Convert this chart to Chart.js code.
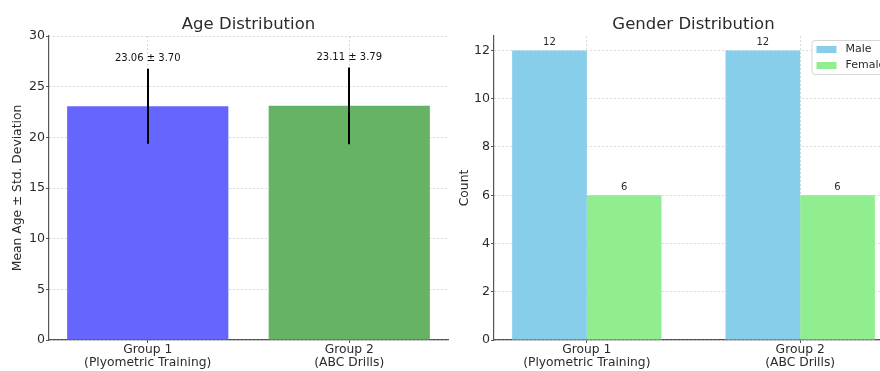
<!DOCTYPE html>
<html>
<head>
<meta charset="utf-8">
<script src="https://cdn.jsdelivr.net/npm/chart.js@4.4.1/dist/chart.umd.min.js"></script>
<style>
  html, body { margin: 0; padding: 0; background: #fff; }
  body { width: 880px; height: 371px; overflow: hidden; position: relative; }
  canvas { position: absolute; top: 0; }
  #ageChart { left: 0; }
  #genderChart { left: 450px; }
</style>
</head>
<body>
<canvas id="ageChart" width="450" height="371"></canvas>
<canvas id="genderChart" width="460" height="371"></canvas>
<script>
const groupLabels = [['Group 1', '(Plyometric Training)'], ['Group 2', '(ABC Drills)']];
const groupPos = [0, 1];
const meanAge = [23.06, 23.11];
const sdAge = [3.70, 3.79];
const maleCounts = [12, 12];
const femaleCounts = [6, 6];

Chart.defaults.font.family = "'DejaVu Sans', sans-serif";
Chart.defaults.color = '#333';
Chart.defaults.animation = false;
Chart.defaults.plugins.legend.display = false;
Chart.defaults.plugins.tooltip.enabled = false;

var textColor = '#2b2b2b';
var spine = '#555';
var gridColor = 'rgba(170,170,170,0.45)';

// title centred over the plot area
const titlePlugin = {
    id: 'axTitle',
    afterDraw: function (chart, args, opts) {
        var ctx = chart.ctx, a = chart.chartArea;
        ctx.save();
        ctx.font = '16.5px "DejaVu Sans"';
        ctx.fillStyle = textColor;
        ctx.textAlign = 'center';
        ctx.textBaseline = 'alphabetic';
        ctx.fillText(opts.text, (a.left + a.right) / 2, 29);
        ctx.restore();
    }
};

// black error bars + "mean ± sd" text for the age chart
const errorBarPlugin = {
    id: 'errBars',
    afterDraw: function (chart) {
        var ctx = chart.ctx, y = chart.scales.y;
        var meta = chart.getDatasetMeta(0);
        ctx.save();
        meta.data.forEach(function (bar, i) {
            var top = y.getPixelForValue(meanAge[i] + sdAge[i]);
            var bot = y.getPixelForValue(meanAge[i] - sdAge[i]);
            ctx.strokeStyle = '#000';
            ctx.lineWidth = 2;
            ctx.beginPath();
            ctx.moveTo(Math.round(bar.x), top);
            ctx.lineTo(Math.round(bar.x), bot);
            ctx.stroke();
            ctx.font = '10px "DejaVu Sans"';
            ctx.fillStyle = '#111';
            ctx.textAlign = 'center';
            ctx.textBaseline = 'bottom';
            ctx.fillText(meanAge[i].toFixed(2) + ' \u00b1 ' + sdAge[i].toFixed(2), bar.x,
                y.getPixelForValue(meanAge[i] + sdAge[i] + 0.5));
        });
        ctx.restore();
    }
};

// count labels on top of the gender bars, and the legend box
const countPlugin = {
    id: 'counts',
    afterDraw: function (chart) {
        var ctx = chart.ctx, a = chart.chartArea;
        ctx.save();
        ctx.font = '10px "DejaVu Sans"';
        ctx.fillStyle = textColor;
        ctx.textAlign = 'center';
        ctx.textBaseline = 'bottom';
        chart.data.datasets.forEach(function (ds, d) {
            chart.getDatasetMeta(d).data.forEach(function (bar, i) {
                ctx.fillText(String(ds.data[i].y), bar.x, bar.y - 3);
            });
        });

        // legend, upper right
        var w = 76, h = 34;
        var lx = a.right - 5.5 - w, ly = a.top + 4;
        ctx.beginPath();
        ctx.roundRect(lx + 0.5, ly + 0.5, w, h, 3);
        ctx.fillStyle = 'rgba(255,255,255,0.85)';
        ctx.fill();
        ctx.strokeStyle = '#d6d6d6';
        ctx.lineWidth = 1;
        ctx.stroke();
        ctx.font = '11px "DejaVu Sans"';
        ctx.textAlign = 'left';
        ctx.textBaseline = 'middle';
        chart.data.datasets.forEach(function (ds, d) {
            var cy = ly + 9.5 + d * 16;
            ctx.fillStyle = ds.backgroundColor;
            ctx.fillRect(lx + 5, cy - 3.5, 20, 7);
            ctx.fillStyle = textColor;
            ctx.fillText(ds.label, lx + 34, cy);
        });
        ctx.restore();
    }
};

function xAxis(min, max) {
    return {
        type: 'linear',
        min: min,
        max: max,
        offset: false,
        z: 1,
        afterBuildTicks: function (s) {
            s.ticks = groupPos.map(function (v) { return { value: v }; });
        },
        afterFit: function (s) { s.height = 31; },
        ticks: {
            callback: function (v) { return groupLabels[groupPos.indexOf(v)]; },
            font: { size: 12.3, lineHeight: 1.1 },
            color: textColor,
            padding: 0,
            maxRotation: 0,
            autoSkip: false
        },
        grid: { offset: false, color: gridColor, tickColor: spine, tickLength: 3 },
        border: { color: spine, width: 1.2, dash: [2, 2] }
    };
}

function yAxis(max, step, title, width, titlePad) {
    return {
        min: 0,
        max: max,
        z: 1,
        afterFit: function (s) { s.width = width; },
        ticks: {
            stepSize: step,
            includeBounds: false,
            font: { size: 12.6 },
            color: textColor,
            padding: 1
        },
        grid: { color: gridColor, tickColor: spine, tickLength: 3 },
        border: { color: spine, width: 1.2, dash: [2, 2] },
        title: {
            display: true,
            text: title,
            color: textColor,
            font: { size: 12.3 },
            padding: { top: titlePad, bottom: 0 }
        }
    };
}

new Chart(document.getElementById('ageChart'), {
    type: 'bar',
    data: {
        datasets: [{
            label: 'Mean Age',
            data: groupPos.map(function (x, i) { return { x: x, y: meanAge[i] }; }),
            backgroundColor: ['#6666ff', '#66b366'],
            barPercentage: 0.8,
            categoryPercentage: 1
        }]
    },
    options: {
        responsive: false,
        devicePixelRatio: 1,
        layout: { padding: { left: 0, right: 2, top: 36, bottom: 0 } },
        scales: {
            x: xAxis(-0.49, 1.49),
            y: yAxis(30, 5, 'Mean Age \u00b1 Std. Deviation', 49, 10)
        },
        plugins: { axTitle: { text: 'Age Distribution' } }
    },
    plugins: [titlePlugin, errorBarPlugin]
});

new Chart(document.getElementById('genderChart'), {
    type: 'bar',
    data: {
        datasets: [{
            label: 'Male',
            data: groupPos.map(function (x, i) { return { x: x, y: maleCounts[i] }; }),
            backgroundColor: '#87ceeb',
            barPercentage: 1,
            categoryPercentage: 0.7
        }, {
            label: 'Female',
            data: groupPos.map(function (x, i) { return { x: x, y: femaleCounts[i] }; }),
            backgroundColor: '#90ee90',
            barPercentage: 1,
            categoryPercentage: 0.7
        }]
    },
    options: {
        responsive: false,
        devicePixelRatio: 1,
        layout: { padding: { left: 0, right: 17, top: 36, bottom: 0 } },
        scales: {
            x: xAxis(-0.435, 1.435),
            y: yAxis(12.6, 2, 'Count', 44, 7.6)
        },
        plugins: { axTitle: { text: 'Gender Distribution' } }
    },
    plugins: [titlePlugin, countPlugin]
});
</script>
</body>
</html>
